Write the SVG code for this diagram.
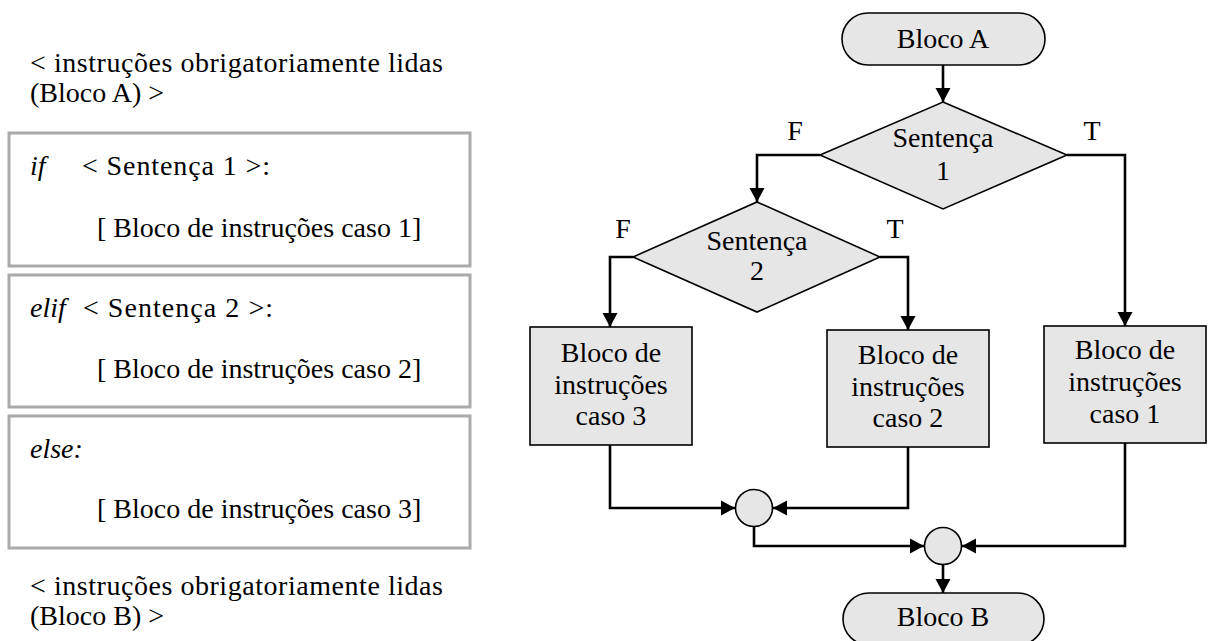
<svg xmlns="http://www.w3.org/2000/svg" width="1210" height="641" viewBox="0 0 1210 641">
  <style>
    text { font-family: "Liberation Serif", "DejaVu Serif", serif; fill: #000; }
    .code { font-size: 28px; }
    .it { font-style: italic; }
    .lbl { font-size: 28px; text-anchor: middle; }
    .frame { fill: #fff; stroke: #aaa; stroke-width: 3; }
    .shape { fill: #e6e6e6; stroke: #000; stroke-width: 1.6; }
    .wire { fill: none; stroke: #000; stroke-width: 2.6; }
  </style>
  <defs>
    <marker id="arrow" markerUnits="userSpaceOnUse" markerWidth="16" markerHeight="16" viewBox="0 0 16 16" refX="15" refY="8" orient="auto">
      <path d="M1,0.5 L15,8 L1,15.5 Z" fill="#000"/>
    </marker>
  </defs>

  <rect width="1210" height="641" fill="#fff"/>

  <!-- Python-style if/elif/else listing -->
  <g id="code-listing">
    <text class="code" x="30" y="72" textLength="413" lengthAdjust="spacing">&lt; instruções obrigatoriamente lidas</text>
    <text class="code" x="30" y="102">(Bloco A) &gt;</text>

    <g id="case-if">
      <rect class="frame" x="9" y="133" width="461" height="133"/>
      <text class="code it" x="30" y="175">if</text>
      <text class="code" x="82" y="175" textLength="188" lengthAdjust="spacing">&lt; Sentença 1 &gt;:</text>
      <text class="code" x="97" y="237">[ Bloco de instruções caso 1]</text>
    </g>

    <g id="case-elif">
      <rect class="frame" x="9" y="275" width="461" height="132"/>
      <text class="code it" x="30" y="317">elif</text>
      <text class="code" x="83" y="317" textLength="190" lengthAdjust="spacing">&lt; Sentença 2 &gt;:</text>
      <text class="code" x="97" y="378">[ Bloco de instruções caso 2]</text>
    </g>

    <g id="case-else">
      <rect class="frame" x="9" y="416" width="461" height="132"/>
      <text class="code it" x="30" y="458">else:</text>
      <text class="code" x="97" y="518">[ Bloco de instruções caso 3]</text>
    </g>

    <text class="code" x="30" y="595" textLength="413" lengthAdjust="spacing">&lt; instruções obrigatoriamente lidas</text>
    <text class="code" x="30" y="625">(Bloco B) &gt;</text>
  </g>

  <!-- Flowchart connectors -->
  <g id="connectors">
    <path class="wire" d="M943,65 V102" marker-end="url(#arrow)"/>
    <path class="wire" d="M820,155 H757 V202" marker-end="url(#arrow)"/>
    <path class="wire" d="M1067,155 H1125 V326" marker-end="url(#arrow)"/>
    <path class="wire" d="M633,257 H610 V327" marker-end="url(#arrow)"/>
    <path class="wire" d="M880,257 H908 V330" marker-end="url(#arrow)"/>
    <path class="wire" d="M610,445 V508 H735" marker-end="url(#arrow)"/>
    <path class="wire" d="M908,447 V508 H773" marker-end="url(#arrow)"/>
    <path class="wire" d="M754,527 V546 H924" marker-end="url(#arrow)"/>
    <path class="wire" d="M1125,443 V546 H962" marker-end="url(#arrow)"/>
    <path class="wire" d="M943,565 V593" marker-end="url(#arrow)"/>
    <text class="lbl" x="795" y="140">F</text>
    <text class="lbl" x="1092" y="140">T</text>
    <text class="lbl" x="623" y="238">F</text>
    <text class="lbl" x="895" y="238">T</text>
  </g>

  <!-- Flowchart nodes -->
  <g id="start-bloco-a">
    <rect class="shape" x="842" y="13" width="203" height="52" rx="26" ry="26"/>
    <text class="lbl" x="943" y="48">Bloco A</text>
  </g>

  <g id="decision-1">
    <polygon class="shape" points="943,102 1067,155 943,209 820,155"/>
    <text class="lbl" x="943" y="147">Sentença</text>
    <text class="lbl" x="943" y="180">1</text>
  </g>

  <g id="decision-2">
    <polygon class="shape" points="757,202 880,257 757,312 633,257"/>
    <text class="lbl" x="757" y="250">Sentença</text>
    <text class="lbl" x="757" y="280">2</text>
  </g>

  <g id="block-case-3">
    <rect class="shape" x="530" y="327" width="162" height="118"/>
    <text class="lbl" x="611" y="362">Bloco de</text>
    <text class="lbl" x="611" y="394">instruções</text>
    <text class="lbl" x="611" y="425">caso 3</text>
  </g>

  <g id="block-case-2">
    <rect class="shape" x="827" y="330" width="162" height="117"/>
    <text class="lbl" x="908" y="364">Bloco de</text>
    <text class="lbl" x="908" y="396">instruções</text>
    <text class="lbl" x="908" y="427">caso 2</text>
  </g>

  <g id="block-case-1">
    <rect class="shape" x="1044" y="326" width="162" height="117"/>
    <text class="lbl" x="1125" y="359">Bloco de</text>
    <text class="lbl" x="1125" y="391">instruções</text>
    <text class="lbl" x="1125" y="423">caso 1</text>
  </g>

  <g id="merge-1">
    <circle class="shape" cx="754" cy="508" r="18.5"/>
  </g>

  <g id="merge-2">
    <circle class="shape" cx="943" cy="546" r="18.5"/>
  </g>

  <g id="end-bloco-b">
    <rect class="shape" x="843" y="593" width="201" height="52" rx="26" ry="26"/>
    <text class="lbl" x="943" y="626">Bloco B</text>
  </g>
</svg>
